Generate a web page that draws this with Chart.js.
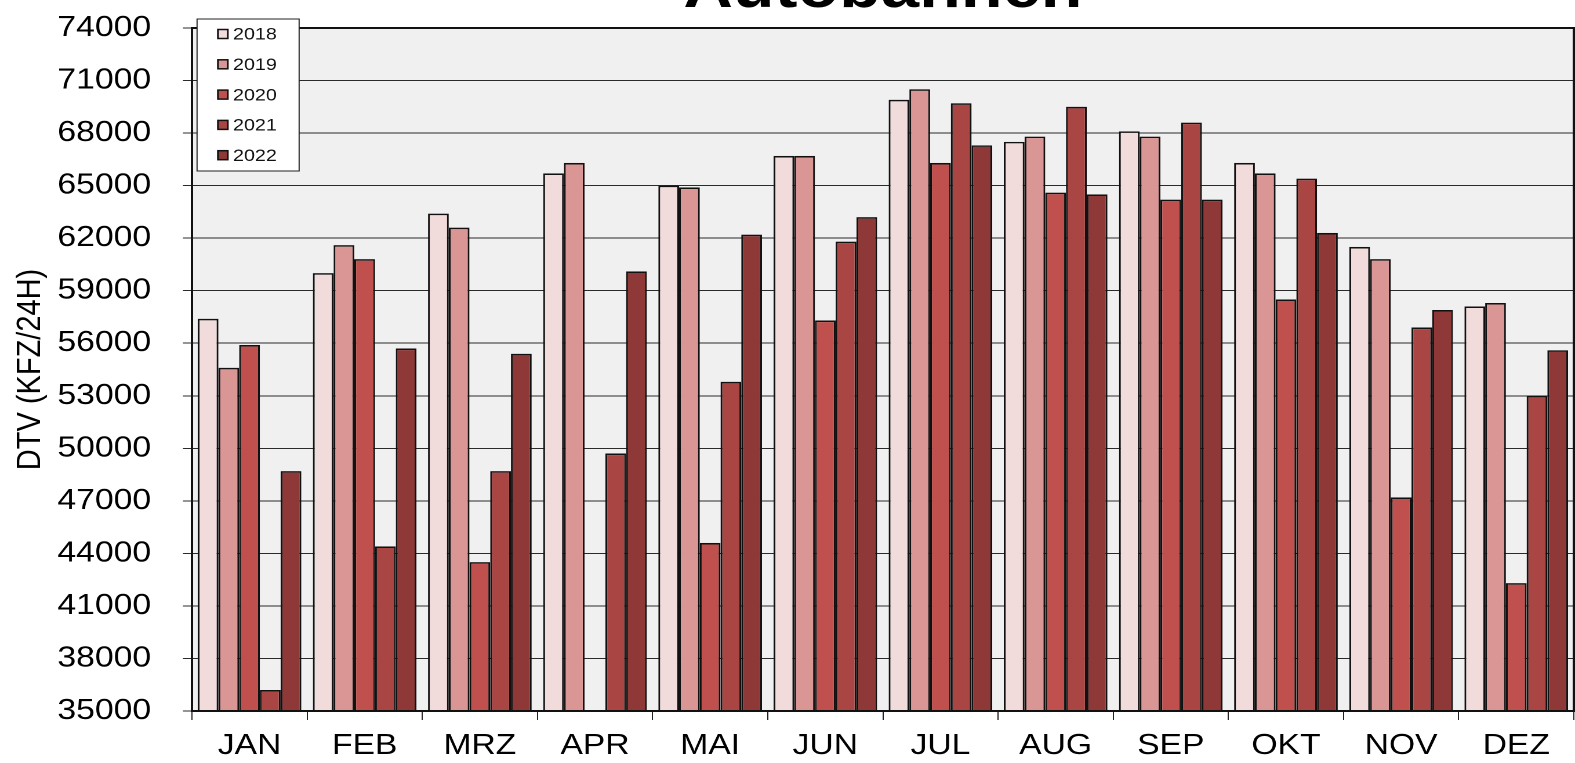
<!DOCTYPE html>
<html>
<head>
<meta charset="utf-8">
<title>Autobahnen</title>
<script src="https://cdn.jsdelivr.net/npm/chart.js@4.4.1/dist/chart.umd.min.js"></script>
<style>
  html, body { margin: 0; padding: 0; background: #fff; overflow: hidden; }
  body { width: 1575px; height: 763px; position: relative; }
  /* the source picture is stretched sideways, so the whole chart is stretched the same way */
  #wrap { position: absolute; left: 0; top: -60px; width: 1358px; height: 823px;
          transform: scaleX(1.15979); transform-origin: 0 0; }
</style>
</head>
<body>
<div id="wrap"><canvas id="dtvChart"></canvas></div>
<script>
const MONTHS = ["JAN", "FEB", "MRZ", "APR", "MAI", "JUN", "JUL", "AUG", "SEP", "OKT", "NOV", "DEZ"];
const YEARS = ["2018", "2019", "2020", "2021", "2022"];

const DTV_2018 = [57400, 60000, 63400, 65700, 65000, 66700, 69900, 67500, 68100, 66300, 61500, 58100];
const DTV_2019 = [54600, 61600, 62600, 66300, 64900, 66700, 70500, 67800, 67800, 65700, 60800, 58300];
const DTV_2020 = [55900, 60800, 43500, 34800, 44600, 57300, 66300, 64600, 64200, 58500, 47200, 42300];
const DTV_2021 = [36200, 44400, 48700, 49700, 53800, 61800, 69700, 69500, 68600, 65400, 56900, 53000];
const DTV_2022 = [48700, 55700, 55400, 60100, 62200, 63200, 67300, 64500, 64200, 62300, 57900, 55600];

const Y_MIN = 35000;
const Y_MAX = 74000;
const Y_STEP = 3000;

const TITLE = "Autobahnen";
const Y_TITLE = "DTV (KFZ/24H)";

const COLORS = ["#f2dcdb", "#da9694", "#c0504d", "#a94644", "#8e3937"];
const FONT = "'Liberation Sans', Arial, sans-serif";

const series = [DTV_2018, DTV_2019, DTV_2020, DTV_2021, DTV_2022];

// grey plot background + dark frame round it
const plotFrame = {
  id: "plotFrame",
  beforeDraw(chart) {
    const { ctx, chartArea: a } = chart;
    ctx.save();
    ctx.fillStyle = "#f0f0f0";
    ctx.fillRect(a.left, a.top, a.right - a.left, a.bottom - a.top);
    ctx.restore();
  },
  afterDraw(chart) {
    const { ctx, chartArea: a } = chart;
    ctx.save();
    ctx.strokeStyle = "#111";
    ctx.lineWidth = 2;
    ctx.strokeRect(a.left, a.top, a.right - a.left, a.bottom - a.top);
    ctx.restore();
  }
};

// boxed legend sitting over the top-left corner of the plot
const boxLegend = {
  id: "boxLegend",
  afterDraw(chart) {
    const { ctx, chartArea: a } = chart;
    const x = a.left + 4.4;
    const y = a.top - 9;
    ctx.save();
    ctx.fillStyle = "#fff";
    ctx.strokeStyle = "#222";
    ctx.lineWidth = 1;
    ctx.fillRect(x, y, 88, 152);
    ctx.strokeRect(x, y, 88, 152);
    ctx.font = "17px " + FONT;
    ctx.textBaseline = "middle";
    chart.data.datasets.forEach((ds, i) => {
      const cy = a.top + 6 + i * 30.3;
      ctx.fillStyle = ds.backgroundColor;
      ctx.fillRect(x + 18, cy - 4.5, 8.5, 9);
      ctx.strokeStyle = "#111";
      ctx.lineWidth = 1.5;
      ctx.strokeRect(x + 18, cy - 4.5, 8.5, 9);
      ctx.fillStyle = "#111";
      ctx.fillText(ds.label, x + 31, cy + 1);
    });
    ctx.restore();
  }
};

const ctx = document.getElementById("dtvChart").getContext("2d");

new Chart(ctx, {
  type: "bar",
  data: {
    labels: MONTHS,
    datasets: YEARS.map((year, i) => ({
      label: year,
      data: series[i],
      backgroundColor: COLORS[i],
      borderColor: "#111",
      borderWidth: 1.6,
      categoryPercentage: 0.9,
      barPercentage: 1.0,
    })),
  },
  options: {
    responsive: true,
    maintainAspectRatio: false,
    animation: false,
    devicePixelRatio: 2,
    layout: { padding: { left: 0, right: 1, top: 0, bottom: 0 } },
    plugins: {
      legend: { display: false },
      tooltip: { enabled: false },
      title: {
        display: true,
        text: TITLE,
        fullSize: false,
        color: "#000",
        font: { family: FONT, size: 59, weight: "bold", lineHeight: 1 },
        padding: { top: 21, bottom: 8 },
      },
    },
    scales: {
      x: {
        grid: {
          offset: true,
          drawOnChartArea: false,
          drawTicks: true,
          tickLength: 9,
          color: "#222",
        },
        border: { display: true, color: "#111", width: 2 },
        ticks: {
          color: "#000",
          padding: 8.5,
          font: { family: FONT, size: 29 },
        },
        afterFit: (scale) => { scale.height = 52; },
      },
      y: {
        min: Y_MIN,
        max: Y_MAX,
        grid: {
          color: "#2a2a2a",
          lineWidth: 1,
          tickLength: 7.8,
        },
        border: { display: true, color: "#111", width: 2 },
        ticks: {
          stepSize: Y_STEP,
          color: "#000",
          padding: 27.5,
          font: { family: FONT, size: 29 },
          callback: (v) => String(v),
        },
        title: {
          display: true,
          text: Y_TITLE,
          color: "#000",
          font: { family: FONT, size: 29 },
          padding: { top: 9.3, bottom: 0 },
        },
        afterFit: (scale) => { scale.width = 165.5; },
      },
    },
  },
  plugins: [plotFrame, boxLegend],
});
</script>
</body>
</html>
